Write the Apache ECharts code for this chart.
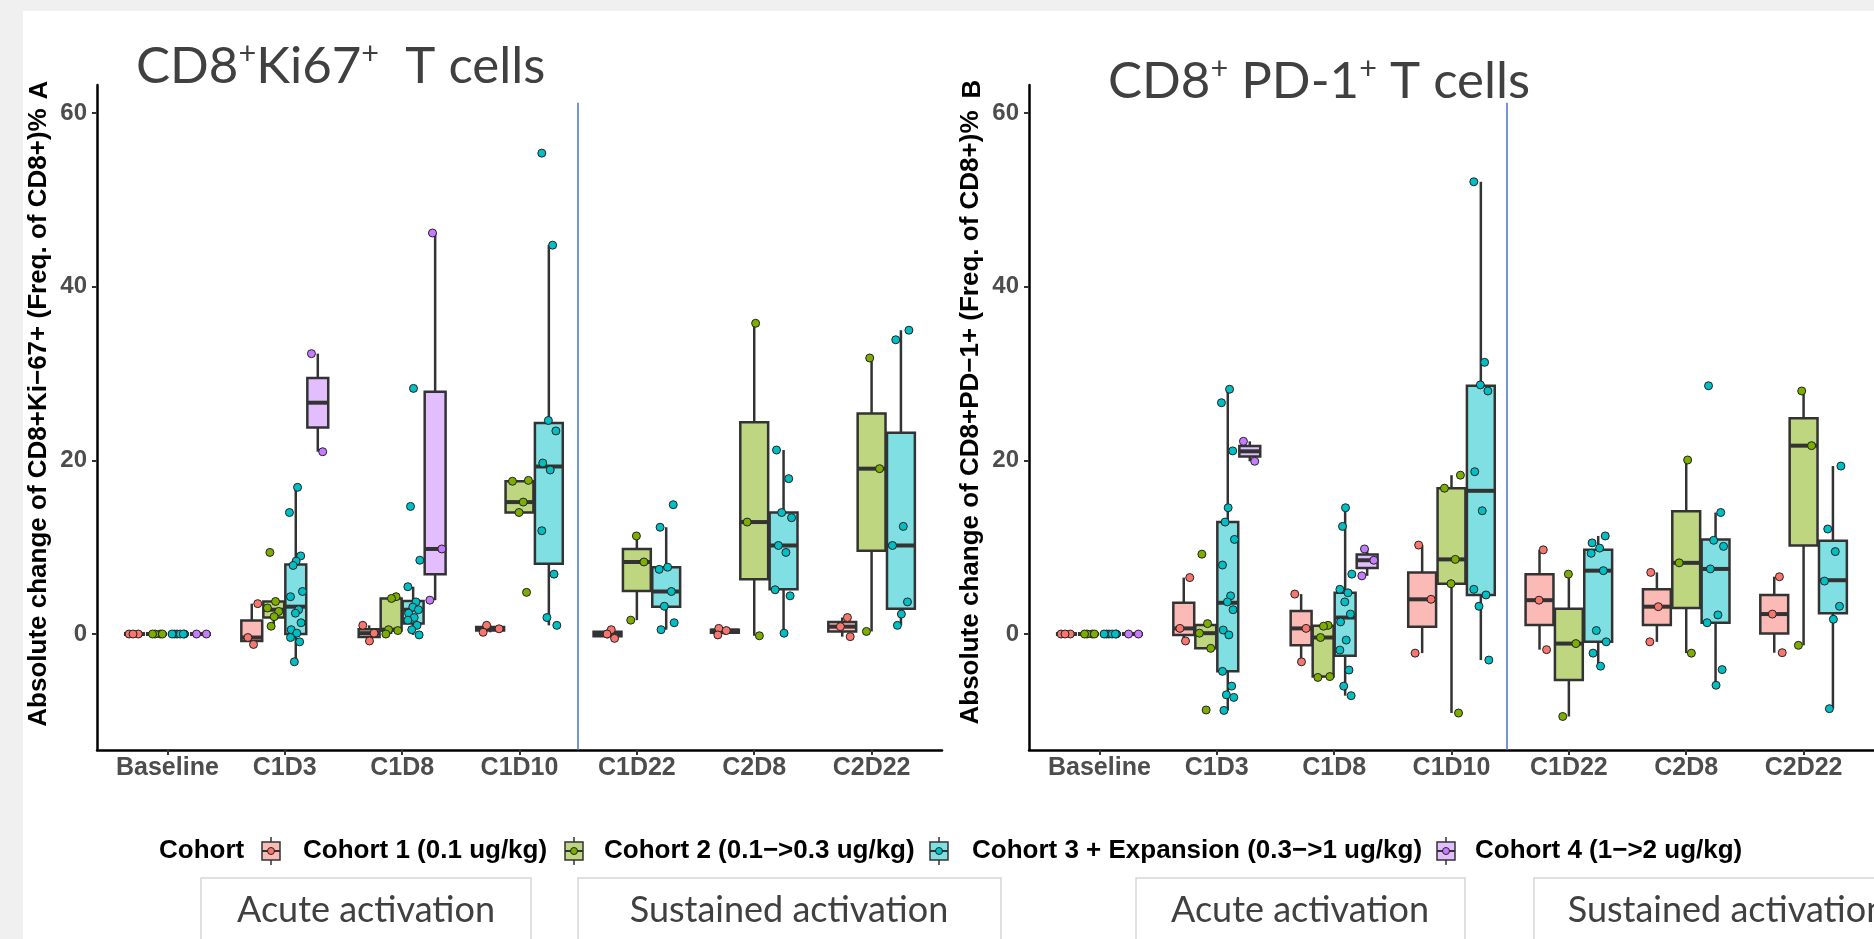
<!DOCTYPE html>
<html>
<head>
<meta charset="utf-8">
<script src="https://cdn.jsdelivr.net/npm/echarts@6/dist/echarts.min.js"></script>
<style>
  html, body { margin: 0; padding: 0; background: #f0f0f0; }
  #chart { width: 1874px; height: 939px; }
</style>
</head>
<body>
<div id="chart"></div>
<script>
const categories = ['Baseline', 'C1D3', 'C1D8', 'C1D10', 'C1D22', 'C2D8', 'C2D22'];
const cohortNames = ['Cohort 1 (0.1 ug/kg)', 'Cohort 2 (0.1−>0.3 ug/kg)', 'Cohort 3 + Expansion (0.3−>1 ug/kg)', 'Cohort 4 (1−>2 ug/kg)'];
const yTicks = [0, 20, 40, 60];
const phaseLabels = ['Acute activation', 'Sustained activation'];

// box stats per timepoint: [whisker low, Q1, median, Q3, whisker high], null = not sampled
// --- panel A: CD8+Ki-67+
const kiBox1 = [[0,0,0,0,0], [-1.15,-0.8,-0.4,1.55,3.5], [-0.8,-0.35,0.1,0.55,1.0], [0.2,0.4,0.6,0.8,1.0], [-0.5,-0.25,0,0.25,0.5], [-0.1,0.15,0.4,0.5,0.65], [-0.3,0.3,0.85,1.4,1.9]];
const kiBox2 = [[0,0,0,0,0], [0.9,1.9,2.8,3.75,3.75], [0,0.4,0.5,4.1,4.3], [14.0,14.0,15.2,17.6,17.7], [1.6,4.95,8.3,9.8,11.3], [-0.2,6.3,12.9,24.4,35.8], [0.3,9.6,19.05,25.4,31.8]];
const kiBox3 = [[0,0,0,0,0], [-3.2,0,3.15,8.0,16.9], [-0.1,1.2,2.8,3.8,5.45], [1.0,8.1,19.3,24.3,44.8], [0.5,3.15,4.9,7.7,12.3], [0.1,5.15,10.2,14.0,21.2], [1.0,2.9,10.2,23.2,35.0]];
const kiBox4 = [[0,0,0,0,0], [21.0,23.8,26.65,29.5,32.3], [3.9,6.9,9.8,27.9,46.2], null, null, null, null];

const kiPts1 = [[0,0,0], [3.5,-0.4,-1.2], [1.0,0.1,-0.8], [1.0,0.6,0.2], [0.5,0,-0.5], [0.65,0.4,-0.1], [1.9,0.85,-0.3]];
const kiPts2 = [[0,0,0,0], [9.4,3.75,3.0,2.6,2.0,0.9], [4.3,4.1,0.5,0.4,0], [17.7,17.6,15.2,14.0,4.8], [11.3,8.3,1.6], [35.8,12.9,-0.2], [31.8,19.05,0.3]];
const kiPts3 = [[0,0,0,0,0,0], [16.9,14.0,9.0,8.4,7.9,4.9,4.3,2.8,2.4,1.3,0.5,0.1,-0.4,-0.9,-3.2], [28.3,14.7,8.5,5.45,3.7,3.1,2.8,2.4,1.9,1.6,1.0,0.5,-0.1], [55.4,44.8,24.6,23.4,19.7,18.9,11.9,6.9,1.9,1.0], [14.9,12.3,7.7,7.45,4.9,3.2,1.3,0.5], [21.2,17.9,14.0,13.4,10.2,9.4,5.1,4.4,0.1], [35.0,33.9,12.4,10.2,3.7,2.3,1.0]];
const kiPts4 = [[0,0], [32.3,21.0], [46.2,9.8,3.9], null, null, null, null];

// --- panel B: CD8+PD-1+
const pdBox1 = [[0,0,0,0,0], [-0.8,-0.1,0.65,3.6,6.5], [-3.2,-1.3,0.65,2.65,4.6], [-2.2,0.85,4.0,7.1,10.25], [-1.8,1.05,3.9,6.9,9.7], [-0.9,1.05,3.15,5.15,7.1], [-2.15,0.05,2.3,4.5,6.6]];
const pdBox2 = [[0,0,0,0,0], [-1.65,-1.65,0.1,1.05,1.2], [-5.0,-4.9,-0.4,0.95,1.0], [-9.1,5.8,8.6,16.8,18.3], [-9.5,-5.3,-1.1,2.9,6.9], [-2.2,3.0,8.2,14.15,20.05], [-1.3,10.2,21.7,24.85,28.0]];
const pdBox3 = [[0,0,0,0,0], [-8.8,-4.3,3.6,12.9,28.2], [-7.1,-2.5,1.9,4.75,14.55], [-3.0,4.5,16.5,28.6,52.1], [-3.7,-0.9,7.3,9.7,11.3], [-5.9,1.3,7.5,10.9,14.0], [-8.6,2.4,6.2,10.75,19.35]];
const pdBox4 = [[0,0,0,0,0], [19.9,20.45,21.05,21.65,22.2], [6.7,7.6,8.5,9.15,9.8], null, null, null, null];

const pdPts1 = [[0,0,0], [6.5,0.65,-0.8], [4.6,0.65,-3.2], [10.25,4.0,-2.2], [9.7,3.9,-1.8], [7.1,3.15,-0.9], [6.6,2.3,-2.15]];
const pdPts2 = [[0,0,0,0], [9.2,1.2,0.1,-1.65,-8.75], [1.0,0.9,-0.4,-4.9,-5.0], [18.3,16.8,8.6,5.8,-9.1], [6.9,-1.1,-9.5], [20.05,8.2,-2.2], [28.0,21.7,-1.3]];
const pdPts3 = [[0,0,0,0,0,0], [28.2,26.65,21.1,14.55,12.9,10.9,7.95,4.4,3.7,2.8,0.46,-0.1,-4.3,-6.0,-7.0,-7.3,-8.8], [14.55,12.4,6.9,5.15,4.75,3.7,2.3,1.4,-0.7,-1.85,-4.15,-6.0,-7.1], [52.1,31.3,28.7,28.0,18.7,14.2,5.15,4.5,3.2,-3.0], [11.3,10.5,9.9,9.3,7.3,0.4,-0.9,-2.2,-3.7], [28.6,14.0,10.8,10.1,7.5,2.2,1.3,-4.1,-5.9], [19.35,12.1,9.5,6.1,3.2,1.7,-8.6]];
const pdPts4 = [[0,0], [22.2,19.9], [9.8,8.5,6.7], null, null, null, null];

const lineColors = ['#F8766D', '#7CAE00', '#00BFC4', '#C77CFF'];
const boxFills = ['#FBBAB6', '#BED680', '#80DFE2', '#E3BEFF'];
// horizontal spread of the points inside a box, as a fraction of box width
const spread = [-0.3, 0.22, -0.08, 0.34, -0.22, 0.1, -0.36, 0.28, 0.02, -0.15, 0.38, -0.3, 0.16, -0.02, 0.3, -0.26, 0.06];
const dividerAt = 4.5;

const AXIS_FONT = 'Liberation Sans, Arial, sans-serif';
const TITLE_FONT = 'Lato, Open Sans, sans-serif';

function boxRenderer(fill) {
  return function (params, api) {
    const x = api.value(0), w = api.value(6);
    const lo = api.value(1), q1 = api.value(2), med = api.value(3), q3 = api.value(4), hi = api.value(5);
    const tl = api.coord([x - w / 2, q3]);
    const br = api.coord([x + w / 2, q1]);
    const mL = api.coord([x - w / 2, med]);
    const mR = api.coord([x + w / 2, med]);
    const top = api.coord([x, hi]), qt = api.coord([x, q3]);
    const bot = api.coord([x, lo]), qb = api.coord([x, q1]);
    const ln = { stroke: '#333333', lineWidth: 2.5 };
    return {
      type: 'group',
      children: [
        { type: 'line', shape: { x1: top[0], y1: top[1], x2: qt[0], y2: qt[1] }, style: ln },
        { type: 'line', shape: { x1: bot[0], y1: bot[1], x2: qb[0], y2: qb[1] }, style: ln },
        { type: 'rect', shape: { x: tl[0], y: tl[1], width: br[0] - tl[0], height: br[1] - tl[1] },
          style: { fill: fill, stroke: '#333333', lineWidth: 2.5 } },
        { type: 'line', shape: { x1: mL[0], y1: mL[1], x2: mR[0], y2: mR[1] }, style: { stroke: '#333333', lineWidth: 4 } }
      ]
    };
  };
}

function panelSeries(boxes, points, idx, divider) {
  // ggplot-style dodge: the boxes present at a timepoint share 0.75 of the slot
  const layout = categories.map((_, c) => {
    const present = boxes.map((b, k) => (b[c] ? k : -1)).filter(k => k >= 0);
    const slot = 0.75 / present.length;
    const pos = {};
    present.forEach((k, j) => { pos[k] = c + 1 - 0.375 + slot * (j + 0.5); });
    return { slot, pos };
  });
  const out = [];
  boxes.forEach((b, k) => {
    const data = [];
    b.forEach((s, c) => { if (s) data.push([layout[c].pos[k]].concat(s, [layout[c].slot * 0.95])); });
    const ser = {
      type: 'custom', name: cohortNames[k], xAxisIndex: idx, yAxisIndex: idx,
      renderItem: boxRenderer(boxFills[k]), encode: { x: 0, y: [1, 2, 3, 4, 5] },
      itemStyle: { color: boxFills[k] }, data: data, z: 2, silent: true
    };
    if (k === 0) {
      ser.markLine = {
        silent: true, symbol: 'none', animation: false,
        lineStyle: { color: '#4472C4', width: 1.5, type: 'solid' },
        label: { show: false },
        data: [[{ coord: [divider, 61.2] }, { coord: [divider, -13.36] }]]
      };
    }
    out.push(ser);
  });
  points.forEach((p, k) => {
    const data = [];
    p.forEach((vals, c) => {
      if (!vals) return;
      const w = layout[c].slot;
      vals.forEach((v, i) => {
        data.push([layout[c].pos[k] + spread[(i + c * 3 + k) % spread.length] * w * 0.8, v]);
      });
    });
    out.push({
      type: 'scatter', name: cohortNames[k], xAxisIndex: idx, yAxisIndex: idx,
      symbolSize: 8, data: data, z: 5, silent: true,
      itemStyle: { color: lineColors[k], borderColor: '#222', borderWidth: 1, opacity: 1 }
    });
  });
  return out;
}

function xAxisFor(idx) {
  return {
    type: 'value', gridIndex: idx, min: 0.4, max: 7.6,
    axisLine: { show: true, onZero: false, lineStyle: { color: '#000', width: 2.5 } },
    axisTick: { show: true, customValues: [1, 2, 3, 4, 5, 6, 7], length: 5, lineStyle: { color: '#333', width: 2 } },
    axisLabel: {
      customValues: [1, 2, 3, 4, 5, 6, 7], margin: 6,
      formatter: v => categories[Math.round(v) - 1] || '',
      fontFamily: AXIS_FONT, fontWeight: 'bold', fontSize: 25, color: '#4D4D4D'
    },
    splitLine: { show: false }
  };
}

function yAxisFor(idx, name) {
  return {
    type: 'value', gridIndex: idx, min: -13.36, max: 63.25,
    name: name, nameLocation: 'middle', nameGap: 45, nameRotate: 90,
    nameTextStyle: { fontFamily: AXIS_FONT, fontWeight: 'bold', fontSize: 26, color: '#000' },
    axisLine: { show: true, onZero: false, lineStyle: { color: '#000', width: 2.5 } },
    axisTick: { show: true, customValues: yTicks, length: 5, lineStyle: { color: '#333', width: 2 } },
    axisLabel: {
      customValues: yTicks, margin: 10,
      fontFamily: AXIS_FONT, fontWeight: 'bold', fontSize: 24, color: '#4D4D4D'
    },
    splitLine: { show: false }
  };
}

// legend keys drawn like ggplot boxplot keys
const legendKeyX = [271, 574, 939, 1446];
const legendTextX = [303, 604, 972, 1475];
const legendY = 851;
const legendGraphics = [
  { type: 'text', x: 159, y: legendY, style: { text: 'Cohort', font: 'bold 26px ' + AXIS_FONT, fill: '#000', verticalAlign: 'middle' } }
];
cohortNames.forEach((n, k) => {
  const cx = legendKeyX[k];
  legendGraphics.push(
    { type: 'line', shape: { x1: cx, y1: legendY - 14, x2: cx, y2: legendY + 14 }, style: { stroke: '#333', lineWidth: 1.5 } },
    { type: 'rect', shape: { x: cx - 9, y: legendY - 9, width: 18, height: 18 }, style: { fill: boxFills[k], stroke: '#333', lineWidth: 1.5 } },
    { type: 'line', shape: { x1: cx - 9, y1: legendY, x2: cx + 9, y2: legendY }, style: { stroke: '#333', lineWidth: 2 } },
    { type: 'circle', shape: { cx: cx, cy: legendY, r: 3.5 }, style: { fill: lineColors[k], stroke: '#222', lineWidth: 1 } },
    { type: 'text', x: legendTextX[k], y: legendY, style: { text: n, font: 'bold 26px ' + AXIS_FONT, fill: '#000', verticalAlign: 'middle' } }
  );
});

// phase boxes under the panels
const phaseBoxes = [
  { x: 201, w: 330, tx: 366, label: 0 }, { x: 578, w: 423, tx: 789, label: 1 },
  { x: 1136, w: 329, tx: 1300, label: 0 }, { x: 1534, w: 423, tx: 1727, label: 1 }
];
const phaseGraphics = [];
phaseBoxes.forEach(b => {
  phaseGraphics.push(
    { type: 'rect', shape: { x: b.x, y: 878, width: b.w, height: 80 }, style: { fill: '#fff', stroke: '#d6d6d6', lineWidth: 1.5 } },
    { type: 'text', x: b.tx, y: 910, style: { text: phaseLabels[b.label], font: '36px ' + TITLE_FONT, fill: '#404040', align: 'center', verticalAlign: 'middle' } }
  );
});

function titleText(x, y, parts, size) {
  return {
    type: 'text', x: x, y: y,
    style: {
      text: parts, fill: '#404040', verticalAlign: 'bottom',
      rich: {
        m: { fontFamily: TITLE_FONT, fontSize: size, fill: '#404040', lineHeight: size * 1.1 },
        s: { fontFamily: TITLE_FONT, fontSize: size * 0.6, fill: '#404040', lineHeight: size * 1.1, verticalAlign: 'top', padding: [0, 0, 0, 0] }
      }
    }
  };
}

const chart = echarts.init(document.getElementById('chart'));
chart.setOption({
  backgroundColor: '#f0f0f0',
  animation: false,
  grid: [
    { left: 97, top: 85, width: 845, height: 665 },
    { left: 1029, top: 85, width: 845, height: 665 }
  ],
  xAxis: [xAxisFor(0), xAxisFor(1)],
  yAxis: [
    yAxisFor(0, 'Absolute change of CD8+Ki−67+ (Freq. of CD8+)%'),
    yAxisFor(1, 'Absolute change of CD8+PD−1+ (Freq. of CD8+)%')
  ],
  graphic: [
    { type: 'rect', z: -10, silent: true, shape: { x: 23, y: 11, width: 1851, height: 928 }, style: { fill: '#ffffff' } },
    titleText(136, 95, '{m|CD8}{s|+}{m|Ki67}{s|+}{m|  T cells}', 51),
    titleText(1108, 110, '{m|CD8}{s|+}{m| PD-1}{s|+}{m| T cells}', 51),
    { type: 'text', x: 40, y: 90, rotation: Math.PI / 2, style: { text: 'A', font: 'bold 26px ' + AXIS_FONT, fill: '#000', align: 'center', verticalAlign: 'middle' } },
    { type: 'text', x: 973, y: 89, rotation: Math.PI / 2, style: { text: 'B', font: 'bold 26px ' + AXIS_FONT, fill: '#000', align: 'center', verticalAlign: 'middle' } }
  ].concat(legendGraphics, phaseGraphics),
  series: [].concat(
    panelSeries([kiBox1, kiBox2, kiBox3, kiBox4], [kiPts1, kiPts2, kiPts3, kiPts4], 0, dividerAt),
    panelSeries([pdBox1, pdBox2, pdBox3, pdBox4], [pdPts1, pdPts2, pdPts3, pdPts4], 1, dividerAt - 0.03)
  )
});
</script>
</body>
</html>
